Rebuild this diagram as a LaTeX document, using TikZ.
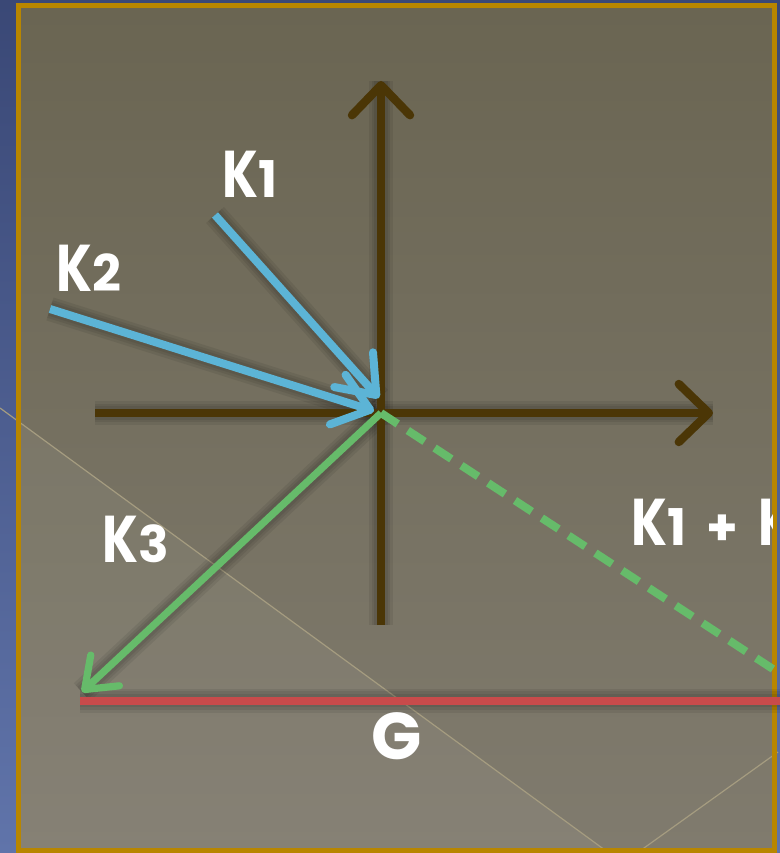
\documentclass[tikz,border=0pt]{standalone}
\usepackage{fontspec}
\setmainfont{Poppins}
\usetikzlibrary{arrows.meta}

\definecolor{slideblue}{RGB}{58,72,118}
\definecolor{slidebluelow}{RGB}{96,116,170}
\definecolor{boxtop}{RGB}{106,101,82}
\definecolor{boxlow}{RGB}{128,123,110}
\definecolor{framegold}{RGB}{184,134,0}
\definecolor{axisbrown}{RGB}{75,54,6}
\definecolor{waveblue}{RGB}{92,180,214}
\definecolor{sumgreen}{RGB}{102,187,106}
\definecolor{gred}{RGB}{200,75,75}
\definecolor{faint}{RGB}{165,156,128}

\newcommand{\idx}[1]{{\fontsize{36}{40}\selectfont #1}}
\newcommand{\kk}{\scalebox{0.78}[1]{K}}

\begin{document}
\begin{tikzpicture}[x=0.025cm, y=-0.025cm,
    axis/.style={draw=axisbrown, line width=0.21cm,
        -{Straight Barb[round, length=0.75cm, width=1.45cm]}},
    wave/.style={draw=waveblue, line width=0.2cm,
        -{Straight Barb[round, length=0.85cm, width=1.3cm]}},
    pull/.style={draw=sumgreen, line width=0.18cm,
        -{Straight Barb[round, length=0.7cm, width=1.05cm]}},
    sumline/.style={draw=sumgreen, line width=0.2cm, dash pattern=on 0.5cm off 0.3cm},
    halo/.style={draw=black, opacity=0.07, line width=#1},
    glabel/.style={text=white, inner sep=0pt, anchor=base west,
        font=\fontsize{47}{52}\selectfont\bfseries}
]
    \useasboundingbox (0,0) rectangle (780,853);

    % slide background and framed panel
    \fill[top color=slideblue, bottom color=slidebluelow] (0,0) rectangle (780,853);
    \fill[top color=boxtop, bottom color=boxlow] (16,5) rectangle (776,851);
    \begin{scope}
        \clip (16,5) rectangle (776,851);
        \fill[white, opacity=0.05] (0,408) -- (609,853) -- (0,853) -- cycle;
    \end{scope}
    \draw[faint, line width=0.03cm] (0,408) -- (609,853);
    \draw[faint, line width=0.03cm] (778,752) -- (637,853);
    \draw[framegold, line width=0.13cm] (18.5,5.5) rectangle (774.5,850.5);

    % points
    \coordinate (O) at (381,413);
    \coordinate (xstart) at (95,413);
    \coordinate (xend) at (713,413);
    \coordinate (ystart) at (381,625);
    \coordinate (yend) at (381,81);
    \coordinate (k1) at (215,215);
    \coordinate (k1tip) at (379,398);
    \coordinate (k2) at (50,309);
    \coordinate (k2tip) at (374,411);
    \coordinate (k3tip) at (82,692);
    \coordinate (sumend) at (779,673);
    \coordinate (gleft) at (80,700.5);
    \coordinate (gright) at (780,700.5);

    % soft shadows
    \foreach \w in {0.6cm,0.46cm,0.34cm} {
        \draw[halo=\w] (xstart) -- (xend);
        \draw[halo=\w] (ystart) -- (yend);
        \draw[halo=\w] (gleft) -- (gright);
        \draw[halo=\w] (k1) -- (k1tip);
        \draw[halo=\w] (k2) -- (k2tip);
        \draw[halo=\w] (O) -- (k3tip);
    }

    % axes
    \draw[axis] (xstart) -- (xend);
    \draw[axis] (ystart) -- (yend);

    % vectors
    \draw[gred, line width=0.2cm] (gleft) -- (gright);
    \draw[sumline] (O) -- (sumend);
    \draw[pull] (O) -- (k3tip);
    \draw[wave] (k1) -- (k1tip);
    \draw[wave] (k2) -- (k2tip);

    % labels
    \node[glabel] (lk1) at (222,198) {\kk\idx{1}};
    \node[glabel] (lk2) at (56,291) {\kk\idx{2}};
    \node[glabel] (lk3) at (102,562) {\kk\idx{3}};
    \begin{scope}
        \clip (16,5) rectangle (772,851);
        \node[glabel] (lsum) at (631,545) {\kk\idx{1}\hspace{0.5cm}\idx{+}\hspace{0.5cm}\kk};
    \end{scope}
    \node[glabel, anchor=base] (lg) at (397,759) {G};

\end{tikzpicture}
\end{document}
